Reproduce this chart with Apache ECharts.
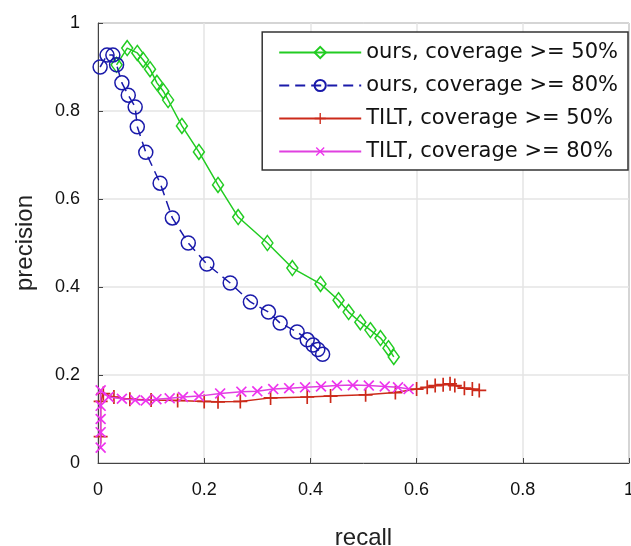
<!DOCTYPE html>
<html>
<head>
<meta charset="utf-8">
<script src="https://cdn.jsdelivr.net/npm/echarts@6/dist/echarts.min.js"></script>
<style>
  html, body { margin: 0; padding: 0; background: #fff; }
  #chart { width: 631px; height: 546px; }
</style>
</head>
<body>
<div id="chart"></div>
<script>
// 数据，从图上读出来的 [recall, precision]
const oursCov50 = [
  [0.035, 0.905], [0.055, 0.943], [0.074, 0.932], [0.085, 0.916], [0.098, 0.895],
  [0.111, 0.864], [0.123, 0.845], [0.132, 0.825], [0.158, 0.766], [0.19, 0.707],
  [0.226, 0.632], [0.264, 0.559], [0.319, 0.5], [0.366, 0.443], [0.419, 0.407],
  [0.453, 0.37], [0.472, 0.343], [0.494, 0.32], [0.513, 0.302], [0.532, 0.284],
  [0.547, 0.261], [0.557, 0.241]
]
const oursCov80 = [
  [0.004, 0.9], [0.017, 0.927], [0.028, 0.927], [0.035, 0.905], [0.045, 0.864],
  [0.057, 0.836], [0.07, 0.809], [0.074, 0.764], [0.09, 0.706], [0.117, 0.636],
  [0.14, 0.557], [0.17, 0.5], [0.205, 0.452], [0.249, 0.409], [0.287, 0.366],
  [0.321, 0.343], [0.343, 0.318], [0.375, 0.298], [0.394, 0.28], [0.405, 0.268],
  [0.414, 0.258], [0.423, 0.247]
]
const tiltCov50 = [
  [0.005, 0.06], [0.005, 0.14], [0.01, 0.158], [0.03, 0.15], [0.06, 0.145],
  [0.1, 0.143], [0.15, 0.142], [0.2, 0.14], [0.226, 0.139], [0.268, 0.14],
  [0.325, 0.148], [0.394, 0.15], [0.438, 0.152], [0.504, 0.155], [0.56, 0.16],
  [0.6, 0.168], [0.62, 0.172], [0.635, 0.176], [0.65, 0.178], [0.663, 0.18],
  [0.672, 0.176], [0.69, 0.17], [0.705, 0.168], [0.718, 0.165]
]
const tiltCov80 = [
  [0.005, 0.035], [0.005, 0.07], [0.005, 0.1], [0.005, 0.13], [0.005, 0.165],
  [0.02, 0.15], [0.045, 0.146], [0.07, 0.143], [0.09, 0.142], [0.11, 0.145],
  [0.135, 0.147], [0.16, 0.15], [0.19, 0.152], [0.23, 0.158], [0.27, 0.162],
  [0.3, 0.163], [0.33, 0.168], [0.36, 0.17], [0.39, 0.172], [0.42, 0.174],
  [0.45, 0.176], [0.48, 0.177], [0.51, 0.176], [0.54, 0.174], [0.565, 0.172],
  [0.585, 0.168]
]
const seriesNames = [
  'ours, coverage >= 50%',
  'ours, coverage >= 80%',
  'TILT, coverage >= 50%',
  'TILT, coverage >= 80%'
]
const axisTicks = [0, 0.2, 0.4, 0.6, 0.8, 1]

// 细十字，x 用旋转45度
const plusPath = 'path://M4.4,0h1.2v4.4h4.4v1.2h-4.4v4.4h-1.2v-4.4h-4.4v-1.2h4.4z'

function tickLabel (v) {
  let r = Math.round(v * 10) / 10
  return axisTicks.indexOf(r) >= 0 ? String(r) : ''
}

let myChart = echarts.init(document.getElementById('chart'))
let option = {
  animation: false,
  textStyle: { fontFamily: 'Liberation Sans, Arial, sans-serif' },
  grid: {
    left: 98,
    right: 2,
    top: 23,
    bottom: 83,
    outerBoundsMode: 'none',
    containLabel: false,
    show: true,
    borderColor: '#555',
    borderWidth: 1
  },
  legend: {
    orient: 'vertical',
    right: 3,
    top: 32,
    data: seriesNames,
    backgroundColor: '#fff',
    borderColor: '#333',
    borderWidth: 1.5,
    padding: [10, 10, 8, 16],
    itemWidth: 82,
    itemHeight: 14,
    itemGap: 12,
    textStyle: { fontSize: 21, color: '#111', fontFamily: 'DejaVu Sans, sans-serif' }
  },
  xAxis: {
    type: 'value',
    min: 0,
    max: 1,
    interval: 0.2,
    name: 'recall',
    nameLocation: 'middle',
    nameGap: 63,
    nameTextStyle: { fontSize: 24, color: '#222' },
    axisLine: { show: true, onZero: false, lineStyle: { color: '#444' } },
    axisTick: { show: true, inside: true, length: 5, lineStyle: { color: '#444' } },
    axisLabel: { fontSize: 18, color: '#111', margin: 18, formatter: tickLabel },
    splitLine: { show: true, lineStyle: { color: '#e4e4e4', width: 1.5 } }
  },
  yAxis: {
    type: 'value',
    min: 0,
    max: 1,
    interval: 0.2,
    name: 'precision',
    nameLocation: 'middle',
    nameGap: 61,
    nameTextStyle: { fontSize: 24, color: '#222' },
    axisLine: { show: true, onZero: false, lineStyle: { color: '#444' } },
    axisTick: { show: true, inside: true, length: 5, lineStyle: { color: '#444' } },
    axisLabel: { fontSize: 18, color: '#111', margin: 18, formatter: tickLabel },
    splitLine: { show: true, lineStyle: { color: '#e4e4e4', width: 1.5 } }
  },
  series: [
    {
      name: seriesNames[0],
      type: 'line',
      data: oursCov50,
      symbol: 'diamond',
      symbolSize: [11, 15],
      lineStyle: { color: '#22cc22', width: 1.5 },
      itemStyle: { color: 'rgba(255,255,255,0)', borderColor: '#22cc22', borderWidth: 1.5 },
      z: 3
    },
    {
      name: seriesNames[1],
      type: 'line',
      data: oursCov80,
      symbol: 'circle',
      symbolSize: 14,
      lineStyle: { color: '#1a1aaa', width: 1.5, type: [10, 6] },
      itemStyle: { color: 'rgba(255,255,255,0)', borderColor: '#1a1aaa', borderWidth: 1.5 },
      z: 4
    },
    {
      name: seriesNames[2],
      type: 'line',
      data: tiltCov50,
      symbol: plusPath,
      symbolSize: 14,
      lineStyle: { color: '#cc2a1a', width: 1.5 },
      itemStyle: { color: '#cc2a1a' },
      z: 2
    },
    {
      name: seriesNames[3],
      type: 'line',
      data: tiltCov80,
      symbol: plusPath,
      symbolSize: 14,
      symbolRotate: 45,
      lineStyle: { color: '#e040e0', width: 1.5 },
      itemStyle: { color: '#ee33ee' },
      z: 5
    }
  ]
}
myChart.setOption(option)
</script>
</body>
</html>
